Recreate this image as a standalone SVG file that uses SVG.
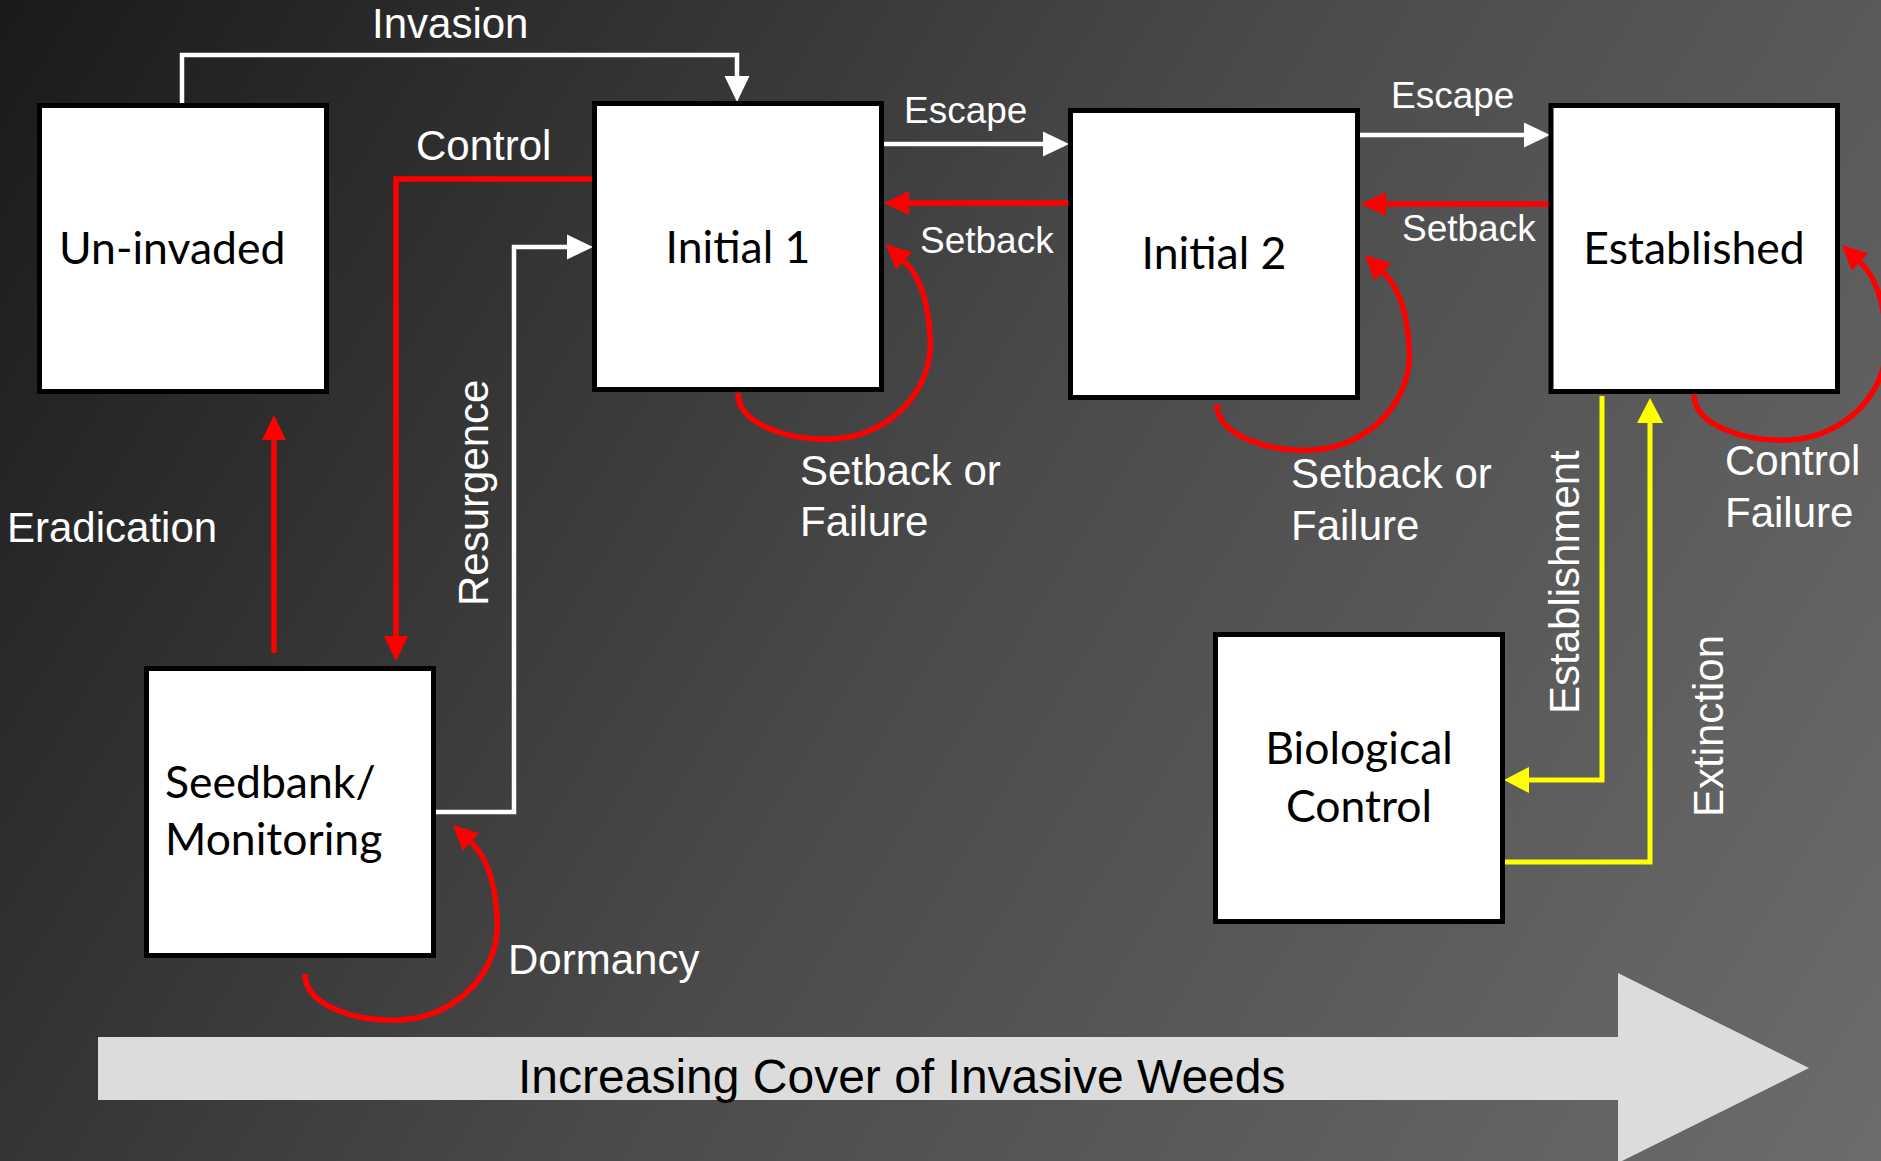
<svg xmlns="http://www.w3.org/2000/svg" width="1881" height="1161" viewBox="0 0 1881 1161">
<defs>
<linearGradient id="bg" gradientUnits="userSpaceOnUse" x1="0" y1="0" x2="1881" y2="1161">
<stop offset="0" stop-color="#1a1a1a"/>
<stop offset="0.5" stop-color="#4a4a4a"/>
<stop offset="1" stop-color="#6c6c6c"/>
</linearGradient>
<marker id="aw" markerUnits="userSpaceOnUse" markerWidth="26" markerHeight="26" viewBox="0 0 26 26" refX="0" refY="13" orient="auto"><path d="M0,0.5 L26,13 L0,25.5 z" fill="#ffffff"/></marker>
<marker id="ar" markerUnits="userSpaceOnUse" markerWidth="26" markerHeight="26" viewBox="0 0 26 26" refX="0" refY="13" orient="auto"><path d="M0,1 L25,13 L0,25 z" fill="#ff0000"/></marker>
<marker id="ay" markerUnits="userSpaceOnUse" markerWidth="26" markerHeight="26" viewBox="0 0 26 26" refX="0" refY="13" orient="auto"><path d="M0,0 L25,13 L0,26 z" fill="#ffff00"/></marker>
<style>
.box{fill:#ffffff;stroke:#000000;stroke-width:5}
.bt{font-family:Lato,"Noto Sans",sans-serif;font-size:44.5px;fill:#000000}
.lbl{font-family:"Liberation Sans",Arial,sans-serif;font-size:42px;fill:#ffffff}
.sm{font-size:37px}
.w{fill:none;stroke:#ffffff;stroke-width:4.5;marker-end:url(#aw)}
.r{fill:none;stroke:#ff0000;stroke-width:5.5;marker-end:url(#ar)}
.y{fill:none;stroke:#ffff00;stroke-width:5;marker-end:url(#ay)}
</style>
</defs>
<rect x="0" y="0" width="1881" height="1161" fill="url(#bg)"/>

<g id="progress-arrow">
<polygon points="98,1037 1618,1037 1618,973 1809,1068 1618,1163 1618,1100 98,1100" fill="#dcdcdc"/>
<text x="518" y="1093" font-family="'Liberation Sans',Arial,sans-serif" font-size="48" fill="#000000">Increasing Cover of Invasive Weeds</text>
</g>

<g id="connectors">
<path class="w" d="M182,104 V55 H737 V76"/>
<path class="r" d="M595,179 H396 V636"/>
<path class="r" d="M274,653 V440"/>
<path class="w" d="M436,812 H514 V247 H567"/>
<path class="w" d="M884,144 H1043"/>
<path class="r" d="M1068,203 H909"/>
<path class="w" d="M1360,135 H1524"/>
<path class="r" d="M1555,204 H1386"/>
<path class="y" d="M1602,396 V780 H1529"/>
<path class="y" d="M1505,862 H1650 V423"/>
<path class="r" d="M738,393 C738,425 790,441 833,439 C890,436 935,390 930,335 C928,300 920,276 904,261"/>
<path class="r" transform="translate(479,11)" d="M738,393 C738,425 790,441 833,439 C890,436 935,390 930,335 C928,300 920,276 904,261"/>
<path class="r" transform="translate(956,1)" d="M738,393 C738,425 790,441 833,439 C890,436 935,390 930,335 C928,300 920,276 904,261"/>
<path class="r" transform="translate(-433,581)" d="M738,393 C738,425 790,441 833,439 C890,436 935,390 930,335 C928,300 920,276 904,261"/>
</g>

<g id="labels">
<text class="lbl" x="372" y="38">Invasion</text>
<text class="lbl" x="416" y="160">Control</text>
<text class="lbl" x="7" y="542">Eradication</text>
<text class="lbl" transform="translate(488,606) rotate(-90)">Resurgence</text>
<text class="lbl sm" x="904" y="123">Escape</text>
<text class="lbl sm" x="920" y="253">Setback</text>
<text class="lbl sm" x="1391" y="108">Escape</text>
<text class="lbl sm" x="1402" y="241">Setback</text>
<text class="lbl" x="800" y="485">Setback or</text>
<text class="lbl" x="800" y="536">Failure</text>
<text class="lbl" x="1291" y="488">Setback or</text>
<text class="lbl" x="1291" y="540">Failure</text>
<text class="lbl" x="1725" y="475">Control</text>
<text class="lbl" x="1725" y="527">Failure</text>
<text class="lbl" x="508" y="974">Dormancy</text>
<text class="lbl" transform="translate(1579,714) rotate(-90)">Establishment</text>
<text class="lbl" transform="translate(1723,817) rotate(-90)">Extinction</text>
</g>

<g id="uninvaded">
<rect class="box" x="39.5" y="105.5" width="287" height="286"/>
<text class="bt" x="59" y="264">Un-invaded</text>
</g>
<g id="initial1">
<rect class="box" x="594.5" y="103.5" width="287" height="286"/>
<text class="bt" x="738" y="263" text-anchor="middle">Initial 1</text>
</g>
<g id="initial2">
<rect class="box" x="1070.5" y="110.5" width="287" height="287"/>
<text class="bt" x="1214" y="269" text-anchor="middle">Initial 2</text>
</g>
<g id="established">
<rect class="box" x="1551" y="105.5" width="286.5" height="286"/>
<text class="bt" x="1694" y="264" text-anchor="middle">Established</text>
</g>
<g id="seedbank">
<rect class="box" x="146.5" y="668.5" width="287" height="287"/>
<text class="bt" x="165" y="798">Seedbank/</text>
<text class="bt" x="165" y="855">Monitoring</text>
</g>
<g id="biocontrol">
<rect class="box" x="1215.5" y="634.5" width="287" height="287"/>
<text class="bt" x="1359" y="764" text-anchor="middle">Biological</text>
<text class="bt" x="1359" y="822" text-anchor="middle">Control</text>
</g>
</svg>
